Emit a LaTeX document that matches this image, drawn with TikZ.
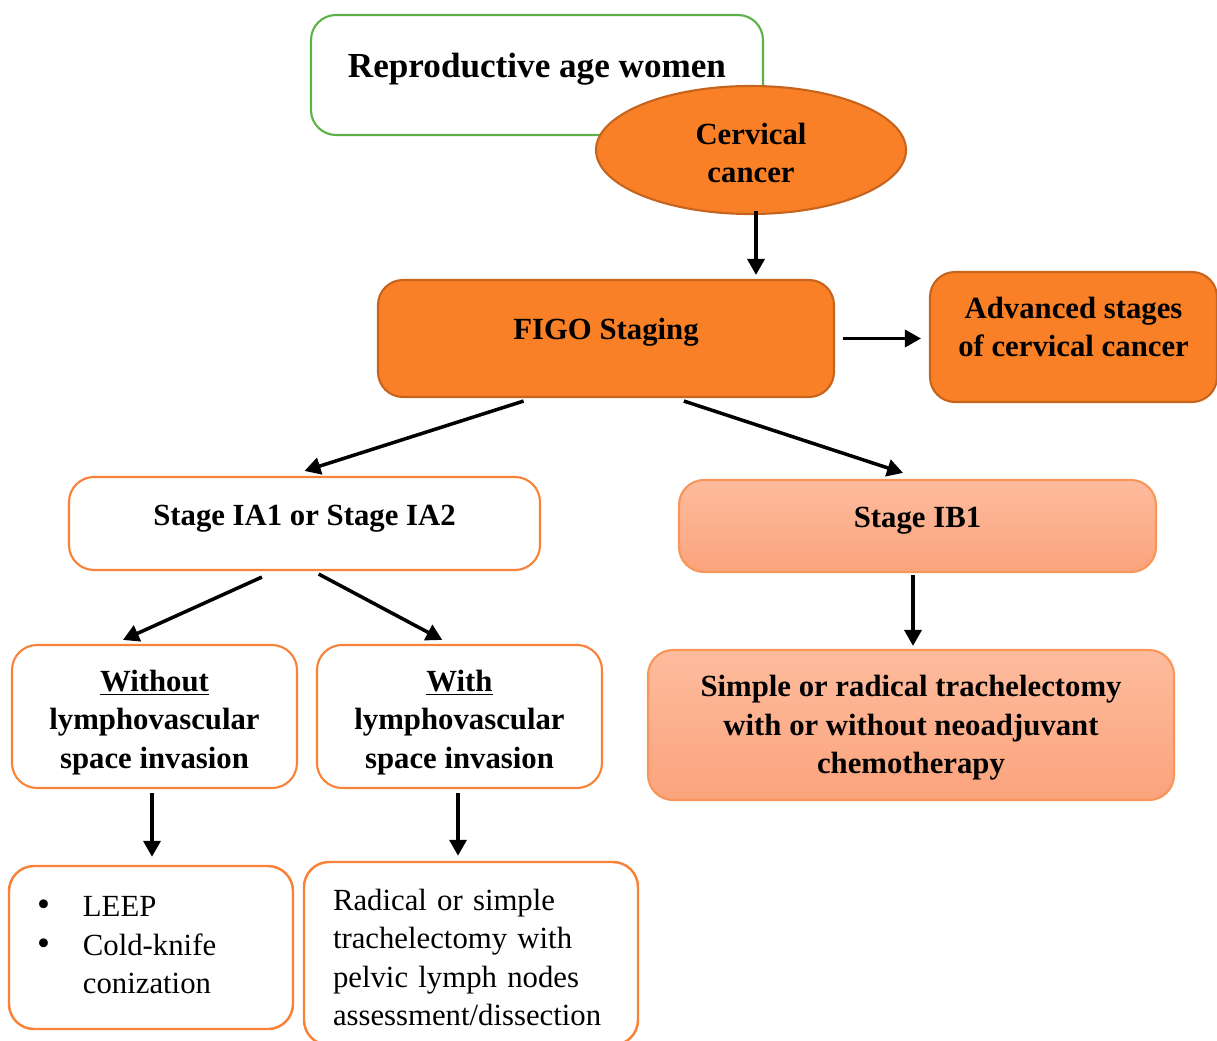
\documentclass[tikz,border=0pt]{standalone}
\usepackage{fontspec}
\setmainfont{Liberation Serif}
\usetikzlibrary{calc,shapes.geometric,arrows.meta}
\definecolor{orangefill}{RGB}{249,128,38}
\definecolor{orangeedge}{RGB}{198,100,30}
\definecolor{greenedge}{RGB}{92,178,70}
\definecolor{lightedge}{RGB}{248,130,55}
\definecolor{salmontop}{RGB}{253,188,158}
\definecolor{salmonbot}{RGB}{251,163,124}
\definecolor{salmonedge}{RGB}{248,150,90}
\newcommand{\topgap}[1]{\rule{0pt}{#1}}
\newcommand{\botgap}[1]{\rule[-#1]{0pt}{0pt}}
\newcommand{\bigdot}{\scalebox{1.2}{\textbullet}}
\tikzset{
	box/.style={draw, rounded corners=0.5cm, line width=1.2pt, align=center,
		font=\bfseries\fontsize{17.5}{21.8}\selectfont},
	darkbox/.style={box, fill=orangefill, draw=orangeedge},
	whitebox/.style={box, fill=white, draw=lightedge},
	softbox/.style={box, top color=salmontop, bottom color=salmonbot, draw=salmonedge},
	plainbox/.style={whitebox, font=\fontsize{17.5}{21.8}\selectfont, align=left},
	arr/.style={line width=2pt, -{Triangle[length=0.32cm,width=0.34cm]}},
}
\begin{document}
\begin{tikzpicture}
			%%%%% START %%%%%
			
			\useasboundingbox (0, 0) rectangle (24.34, -20.82);
			
			\node[box, draw=greenedge, fill=white, minimum width=9.04cm, minimum height=2.4cm, text depth=0.4cm,
				font=\bfseries\fontsize{20}{24}\selectfont] (women) at (10.74, -1.5) {Reproductive age women};
			\node[ellipse, draw=orangeedge, fill=orangefill, line width=1.2pt, minimum width=6.2cm, minimum height=2.56cm,
				align=center, font=\bfseries\fontsize{17.5}{21.8}\selectfont] (cervical) at (15.02, -3.0) {\topgap{0.54cm}Cervical\\cancer};
			
			\node[darkbox, minimum width=9.12cm, minimum height=2.34cm, text depth=0.38cm] (figo) at (12.12, -6.77) {FIGO Staging};
			\node[darkbox, minimum width=5.74cm, minimum height=2.6cm] (advanced) at (21.47, -6.74) {Advanced stages\\of cervical cancer\botgap{0.4cm}};
			
			\node[whitebox, minimum width=9.42cm, minimum height=1.86cm, text depth=0.34cm] (stageia) at (6.09, -10.47) {Stage IA1 or Stage IA2};
			\node[softbox, minimum width=9.54cm, minimum height=1.84cm, text depth=0.34cm] (stageib) at (18.35, -10.52) {Stage IB1};
			
			\node[whitebox, minimum width=5.7cm, minimum height=2.86cm] (withoutlvsi) at (3.09, -14.33)
				{\topgap{0.66cm}\underline{Without}\\lymphovascular\\space invasion};
			\node[whitebox, minimum width=5.7cm, minimum height=2.86cm] (withlvsi) at (9.19, -14.33)
				{\topgap{0.66cm}\underline{With}\\lymphovascular\\space invasion};
			\node[softbox, minimum width=10.52cm, minimum height=3.0cm] (simple) at (18.22, -14.5)
				{\topgap{0.54cm}Simple or radical trachelectomy\\with or without neoadjuvant\\chemotherapy};
			
			\node[plainbox, text width=4.56cm, inner xsep=0.56cm, minimum height=3.26cm, line width=1.4pt] (leep) at (3.02, -18.95)
				{\begin{tabular}{@{}l@{\hspace{0.66cm}}l@{}}
					\bigdot & LEEP\\
					\bigdot & Cold-knife\\
					 & conization
				\end{tabular}};
			\node[plainbox, text width=5.52cm, inner xsep=0.58cm, minimum height=3.66cm, line width=1.4pt] (radical) at (9.42, -19.07)
				{\topgap{0.59cm}Radical or simple\\trachelectomy with\\pelvic lymph nodes\\assessment/dissection};
			
			\draw[arr, shorten >=0.08cm] ($(cervical.south)+(0.1, 0.08)$) coordinate (c1) -- (c1 |- figo.north);
			\draw[arr, shorten <=0.16cm, shorten >=0.16cm] (figo.east) -- (figo.east -| advanced.west);
			
			\draw[arr] ($(figo.south west)!0.32!(figo.south east)+(0, -0.06)$) -- ($(stageia.north)+(0, 0.1)$);
			\draw[arr] ($(figo.south west)!0.67!(figo.south east)+(0, -0.06)$) -- ($(stageib.north west)!0.47!(stageib.north east)+(0, 0.12)$);
			
			\draw[arr] ($(stageia.south west)!0.41!(stageia.south east)+(0, -0.12)$) -- ($(withoutlvsi.north west)!0.39!(withoutlvsi.north east)+(0, 0.08)$);
			\draw[arr] ($(stageia.south west)!0.53!(stageia.south east)+(0, -0.06)$) -- ($(withlvsi.north west)!0.44!(withlvsi.north east)+(0, 0.08)$);
			\draw[arr, shorten >=0.06cm] ($(stageib.south)+(-0.09, -0.04)$) coordinate (b1) -- (b1 |- simple.north);
			
			\draw[arr, shorten >=0.16cm] ($(withoutlvsi.south)+(-0.05, -0.08)$) coordinate (w1) -- (w1 |- leep.north);
			\draw[arr, shorten >=0.1cm] ($(withlvsi.south)+(-0.03, -0.08)$) coordinate (w2) -- (w2 |- radical.north);
			
			%%%%% END %%%%%
\end{tikzpicture}
\end{document}
